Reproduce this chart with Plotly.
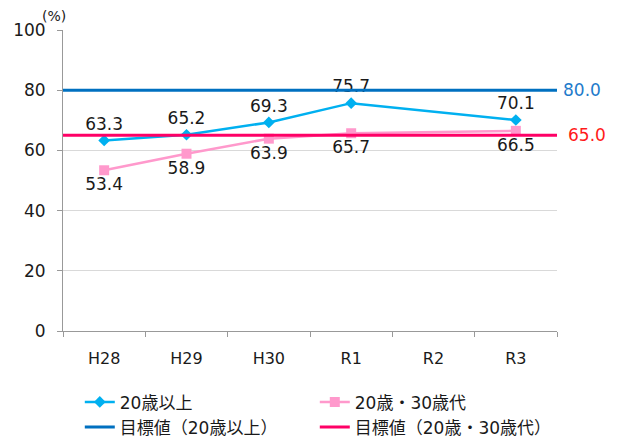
import plotly.graph_objects as go

categories = ["H28", "H29", "H30", "R1", "R2", "R3"]
over20 = [63.3, 65.2, 69.3, 75.7, None, 70.1]
age20_30 = [53.4, 58.9, 63.9, 65.7, None, 66.5]
target_over20 = 80.0
target_20_30 = 65.0

names = ["20歳以上", "20歳・30歳代", "目標値（20歳以上）", "目標値（20歳・30歳代）"]

FONT = "DejaVu Sans, Noto Sans CJK JP, sans-serif"

fig = go.Figure()
fig.add_trace(go.Scatter(
    x=categories, y=over20, name=names[0], mode="lines+markers+text",
    connectgaps=True,
    line=dict(color="#00B0F0", width=2.5),
    marker=dict(symbol="diamond", size=9, color="#00B0F0"),
    text=[f"{v:.1f}" if v is not None else "" for v in over20],
    textposition="top center",
    textfont=dict(size=17, color="#1a1a1a", family=FONT),
))
fig.add_trace(go.Scatter(
    x=categories, y=age20_30, name=names[1], mode="lines+markers+text",
    connectgaps=True,
    line=dict(color="#FF99CC", width=2.5),
    marker=dict(symbol="square", size=10, color="#FF99CC"),
    text=[f"{v:.1f}" if v is not None else "" for v in age20_30],
    textposition="bottom center",
    textfont=dict(size=17, color="#1a1a1a", family=FONT),
))
fig.add_trace(go.Scatter(
    x=[0, 1], y=[target_over20, target_over20], name=names[2], mode="lines",
    xaxis="x2", line=dict(color="#0070C0", width=3), hoverinfo="skip",
))
fig.add_trace(go.Scatter(
    x=[0, 1], y=[target_20_30, target_20_30], name=names[3], mode="lines",
    xaxis="x2", line=dict(color="#FF0066", width=3), hoverinfo="skip",
))

fig.add_annotation(x=1.0, xref="paper", y=target_over20, yref="y",
                   text=f"{target_over20:.1f}", showarrow=False, xanchor="left", xshift=4,
                   font=dict(size=17, color="#1F7BCB", family=FONT))
fig.add_annotation(x=1.0, xref="paper", y=target_20_30, yref="y",
                   text=f"{target_20_30:.1f}", showarrow=False, xanchor="left", xshift=9,
                   font=dict(size=17, color="#FF1A1A", family=FONT))
fig.add_annotation(x=0.0, xref="paper", y=1.0, yref="paper", yanchor="bottom",
                   text="(%)", showarrow=False, xanchor="left", xshift=-23, yshift=4,
                   font=dict(size=14, color="#1a1a1a", family=FONT))

fig.update_layout(
    width=623, height=441,
    margin=dict(l=55, r=74, t=22, b=118, autoexpand=False),
    paper_bgcolor="white", plot_bgcolor="white",
    font=dict(family=FONT, color="#1a1a1a"),
    showlegend=True,
    legend=dict(orientation="h", x=0.034, xanchor="left", y=-0.38, yanchor="bottom",
                entrywidth=190, entrywidthmode="pixels", itemwidth=30,
                font=dict(size=17, family=FONT, color="#1a1a1a"),
                bgcolor="rgba(0,0,0,0)", traceorder="normal"),
    xaxis=dict(type="category", categoryorder="array", categoryarray=categories,
               range=[-0.5, 5.5], showgrid=False, showline=True, linecolor="#999999",
               linewidth=1, ticks="outside", tickson="boundaries", ticklen=5,
               tickcolor="#999999", tickfont=dict(size=16), ticklabelstandoff=13,
               zeroline=False),
    xaxis2=dict(overlaying="x", range=[0, 1], visible=False),
    yaxis=dict(range=[0, 100], dtick=20, showgrid=True, gridcolor="#D9D9D9",
               gridwidth=1, showline=True, linecolor="#999999", linewidth=1,
               ticks="outside", ticklen=5, tickcolor="#999999",
               tickfont=dict(size=17), ticklabelstandoff=8, zeroline=False),
)

fig.write_html("out.html")
